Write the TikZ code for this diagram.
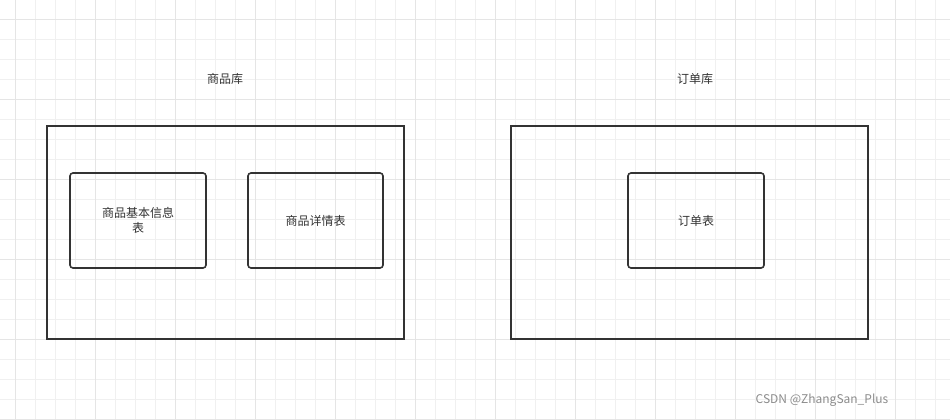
\documentclass[tikz,border=0pt]{standalone}
\usepackage{fontspec}
\setmainfont{Noto Sans CJK SC}
\begin{document}
\begin{tikzpicture}[x=1pt,y=-1pt,
 outer/.style={draw=black!80,line width=1.6pt},
 inner/.style={draw=black!80,line width=1.6pt,rounded corners=3pt,text width=118pt,align=center,font=\fontsize{12}{15}\selectfont,text=black!80},
 lbl/.style={font=\fontsize{12}{15}\selectfont,text=black!80}]
\useasboundingbox (0,0) rectangle (950,420);
\fill[white] (0,0) rectangle (950,420);
\foreach \x in {15,35,...,935} \draw[black!6,line width=0.8pt] (\x,0) -- (\x,420);
\foreach \y in {19,39,...,419} \draw[black!6,line width=0.8pt] (0,\y) -- (950,\y);
\foreach \x in {15,95,...,935} \draw[black!10,line width=0.8pt] (\x,0) -- (\x,420);
\foreach \y in {19,99,...,419} \draw[black!10,line width=0.8pt] (0,\y) -- (950,\y);
\draw[outer] (47,126) rectangle (404,339);
\draw[outer] (511,126) rectangle (868,339);
\node[lbl] (l1) at (225,79) {商品库};
\node[lbl] (l2) at (695,79) {订单库};
\node[inner,minimum width=136pt,minimum height=95pt] (a) at (138,220.5) {商品基本信息\\表};
\node[inner,minimum width=135pt,minimum height=95pt] (b) at (315.5,220.5) {商品详情表};
\node[inner,minimum width=136pt,minimum height=95pt] (c) at (696,220.5) {订单表};
\node[font=\fontsize{12}{15}\selectfont,text=black!45] (w) at (822,400) {CSDN @ZhangSan\_Plus};
\end{tikzpicture}
\end{document}
